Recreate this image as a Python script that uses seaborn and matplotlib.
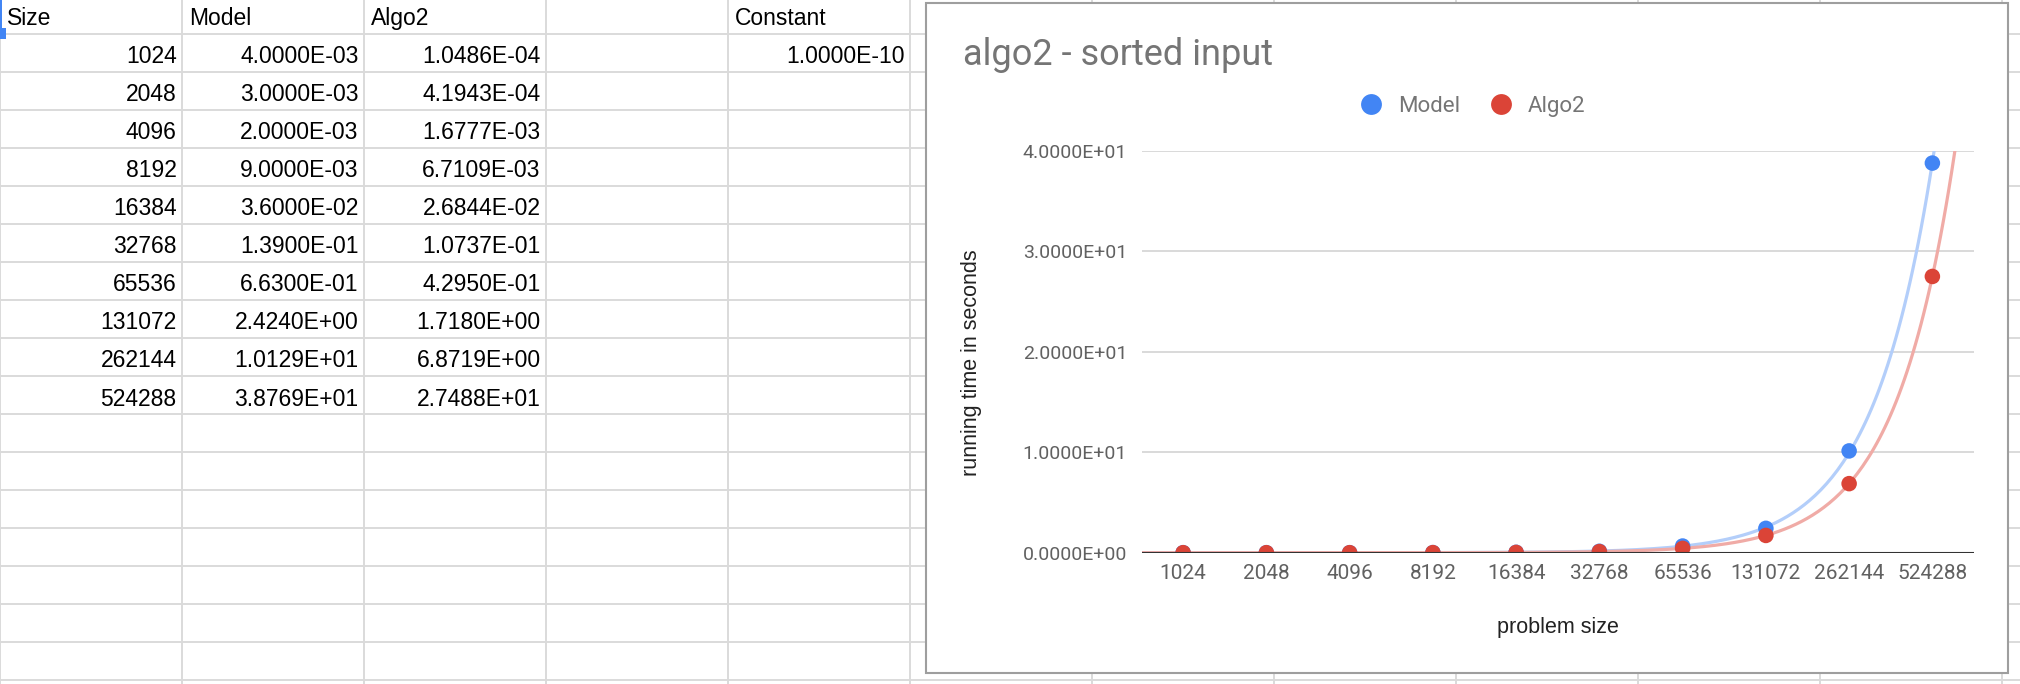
import numpy as np
import pandas as pd
import matplotlib
matplotlib.use("Agg")
import matplotlib.pyplot as plt
from matplotlib.patches import Rectangle
from matplotlib.lines import Line2D
import seaborn as sns

# sheet data
sizes = [1024, 2048, 4096, 8192, 16384, 32768, 65536, 131072, 262144, 524288]
model = [4.0e-3, 3.0e-3, 2.0e-3, 9.0e-3, 3.6e-2, 1.39e-1, 6.63e-1, 2.424, 10.129, 38.769]
algo2 = [1.0486e-4, 4.1943e-4, 1.6777e-3, 6.7109e-3, 2.6844e-2, 1.0737e-1,
         4.2950e-1, 1.7180, 6.8719, 27.488]
constant = 1.0e-10
headers = ["Size", "Model", "Algo2", "", "Constant"]
y_ticks = [0, 10, 20, 30, 40]

blue, red = "#4285f4", "#db4437"
blue_trend, red_trend = "#b3cefa", "#f0aba6"

sns.set_theme(style="white")
plt.rcParams['font.family'] = ['Liberation Sans', 'DejaVu Sans']

W, H = 2020, 684
fig = plt.figure(figsize=(W / 100, H / 100), dpi=100)

# ---- spreadsheet background ----
bg = fig.add_axes([0, 0, 1, 1])
bg.set_xlim(0, W)
bg.set_ylim(H, 0)
bg.axis('off')

col_w = 182
row_lines = [33.5 + 38.05 * k for k in range(18)]
grid_c = "#dadada"
for k in range(0, 12):
    bg.plot([col_w * k, col_w * k], [0, H], color=grid_c, lw=1.4, zorder=1)
for yl in row_lines:
    bg.plot([0, W], [yl, yl], color=grid_c, lw=1.4, zorder=1)

# selection marker top-left
bg.add_patch(Rectangle((0, 0), 2.2, 30, color="#4285f4", zorder=2, lw=0))
bg.add_patch(Rectangle((0, 28), 6, 11, color="#4285f4", zorder=2, lw=0))

cell_fs = 16.5
for c, h in enumerate(headers):
    if h:
        bg.text(col_w * c + 7, 25, h, fontsize=cell_fs, color="black",
                ha='left', va='baseline', zorder=2)

for r in range(len(sizes)):
    base = row_lines[r + 1] - 8.5
    cells = [str(sizes[r]), f"{model[r]:.4E}", f"{algo2[r]:.4E}"]
    for c, txt in enumerate(cells):
        bg.text(col_w * (c + 1) - 5.5, base, txt, fontsize=cell_fs,
                color="black", ha='right', va='baseline', zorder=2)
bg.text(col_w * 5 - 5.5, row_lines[1] - 8.5, f"{constant:.4E}", fontsize=cell_fs,
        color="black", ha='right', va='baseline', zorder=2)

# chart box
bg.add_patch(Rectangle((926, 3), 2008 - 926, 673 - 3, facecolor="white",
                       edgecolor="#9e9e9e", lw=1.5, zorder=3))

# ---- chart ----
left, right = 1141.5, 1974
top, bottom = 150.7, 552.7
ax = fig.add_axes([left / W, 1 - bottom / H, (right - left) / W, (bottom - top) / H])
ax.set_zorder(5)
ax.patch.set_alpha(0)

pos = np.arange(len(sizes))
df = pd.DataFrame({"pos": np.concatenate([pos, pos]),
                   "value": model + algo2,
                   "series": ["Model"] * len(model) + ["Algo2"] * len(algo2)})

# exponential trendlines (weighted log fit, like the sheet's trendline)
t = np.linspace(-0.5, 9.5, 300)
trend_rows = []
for name, vals in (("Model", model), ("Algo2", algo2)):
    v = np.array(vals)
    b, a = np.polyfit(pos, np.log(v), 1, w=np.sqrt(v))
    trend_rows.append(pd.DataFrame({"pos": t, "value": np.exp(a + b * t), "series": name}))
trend = pd.concat(trend_rows)

sns.lineplot(data=trend, x="pos", y="value", hue="series",
             palette={"Model": blue_trend, "Algo2": red_trend},
             lw=2.3, legend=False, ax=ax, zorder=2)
sns.scatterplot(data=df, x="pos", y="value", hue="series",
                palette={"Model": blue, "Algo2": red}, s=125, linewidth=0,
                legend=False, ax=ax, zorder=3)

ax.set_xlim(-0.5, 9.5)
ax.set_ylim(0, 40)
ax.axhline(0, color="#333333", lw=1.5, zorder=4)
ax.set_yticks(y_ticks)
ax.set_yticklabels([f"{v:.4E}" for v in y_ticks], fontfamily="Roboto",
                   fontsize=14, color="#616161")
ax.set_xticks(pos)
ax.set_xticklabels([str(s) for s in sizes], fontfamily="Roboto",
                   fontsize=15, color="#616161")
ax.tick_params(axis='y', length=0, pad=10.4)
ax.tick_params(axis='x', length=0, pad=8)
ax.yaxis.grid(True, color="#d9d9d9", lw=1.4)
ax.set_axisbelow(True)
for s in ax.spines.values():
    s.set_visible(False)
ax.set_xlabel("")
ax.set_ylabel("")

# title, legend, axis titles
fig.text(963 / W, 1 - 65 / H, "algo2 - sorted input", fontfamily="Roboto",
         fontsize=26, color="#757575", ha='left', va='baseline', zorder=6)

handles = [Line2D([], [], marker='o', ls='', color=blue, markersize=15, markeredgewidth=0),
           Line2D([], [], marker='o', ls='', color=red, markersize=15, markeredgewidth=0)]
leg = fig.legend(handles, ["Model", "Algo2"], loc='center left',
                 bbox_to_anchor=(1359.5 / W, 1 - 106.7 / H), ncol=2, frameon=False,
                 borderpad=0, borderaxespad=0, handlelength=1.0, handletextpad=0.72,
                 columnspacing=1.33, prop={'family': 'Roboto', 'size': 16})
for txt in leg.get_texts():
    txt.set_color("#757575")
leg.set_zorder(6)

fig.text(972 / W, 1 - 362.6 / H, "running time in seconds", rotation=90,
         fontsize=15.5, color="#222222", ha='center', va='center', zorder=6)
fig.text(1557.7 / W, 1 - 628 / H, "problem size", fontsize=15.5,
         color="#222222", ha='center', va='center', zorder=6)

fig.savefig("out.png", dpi=100)
